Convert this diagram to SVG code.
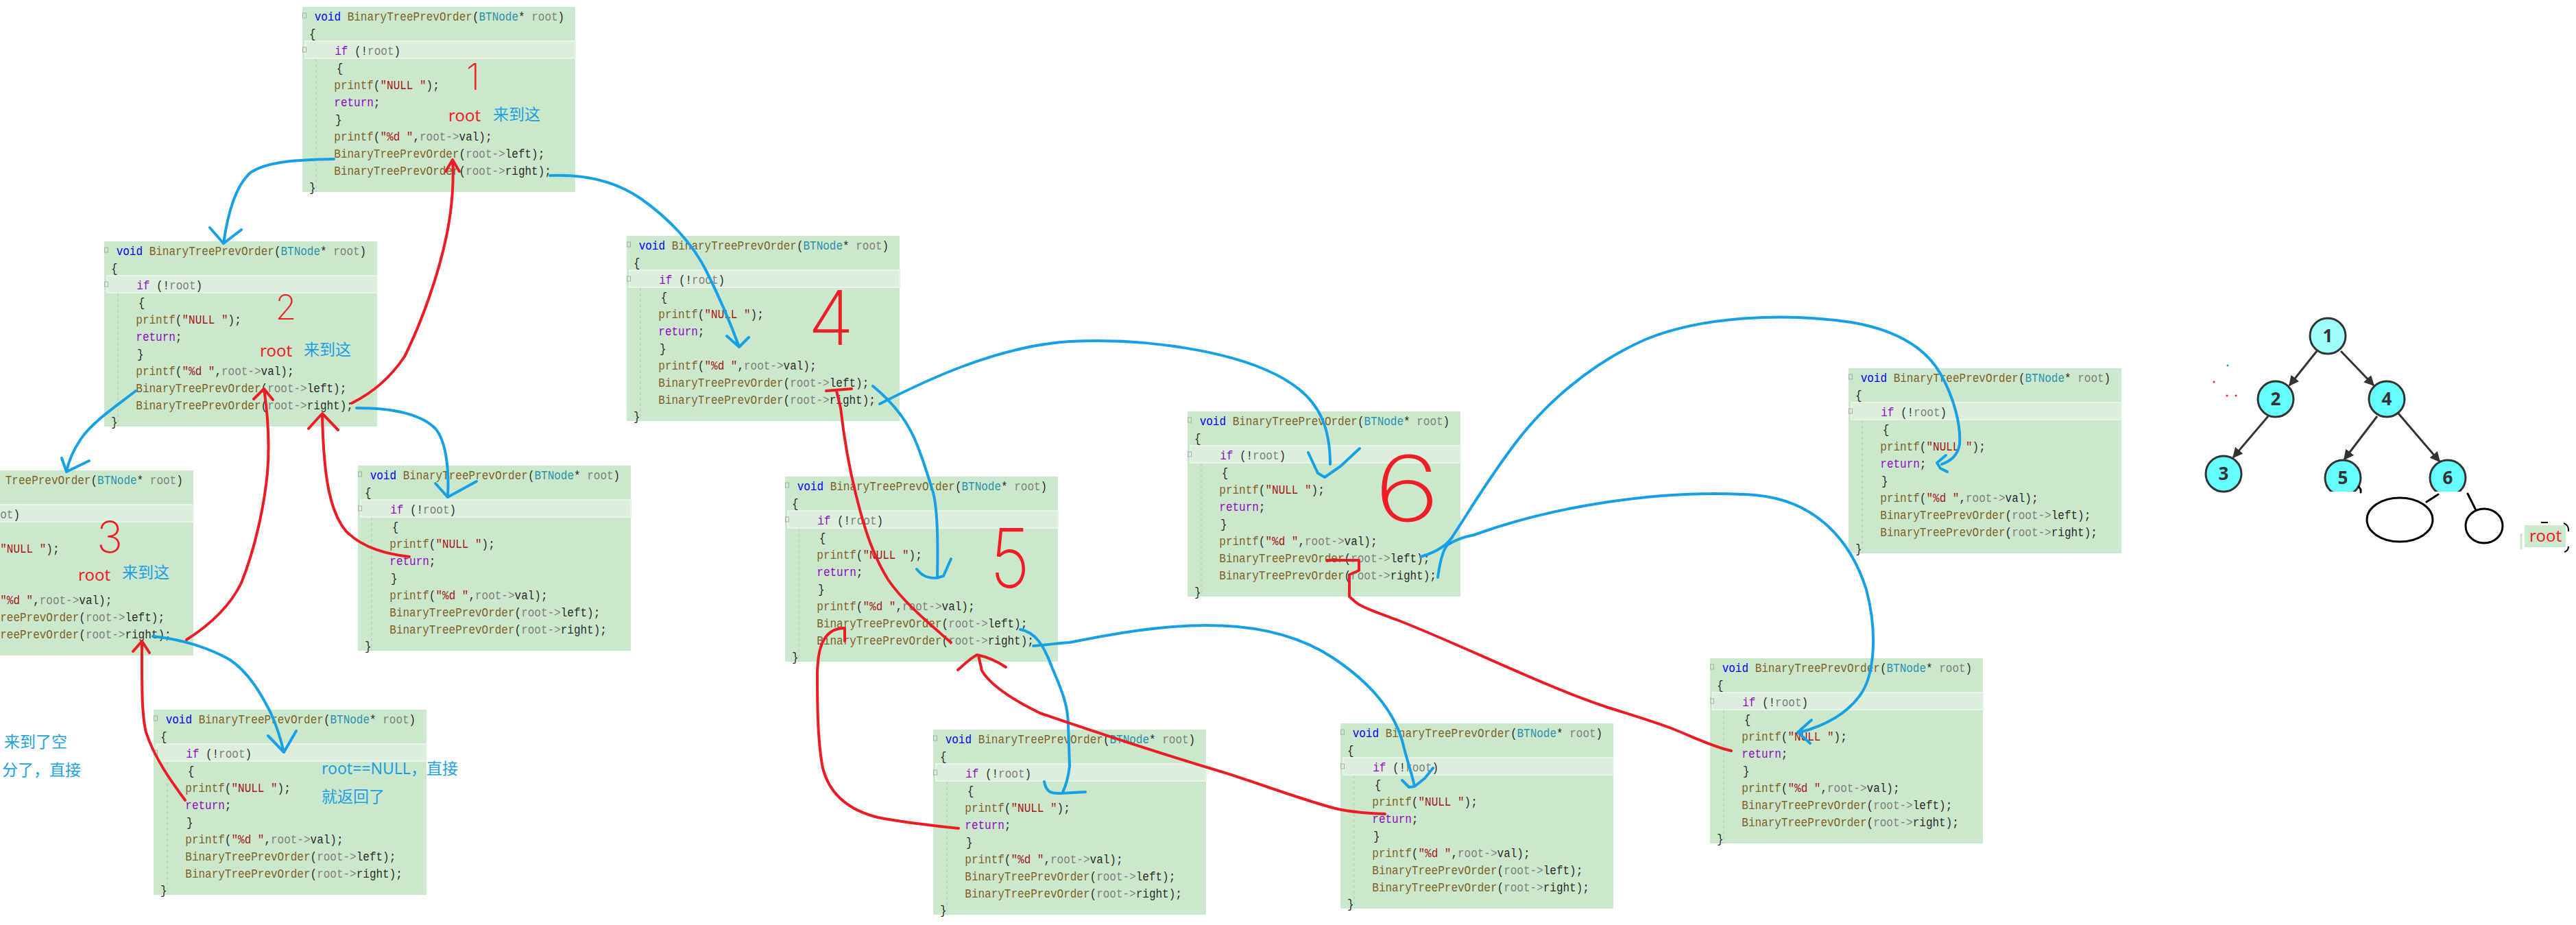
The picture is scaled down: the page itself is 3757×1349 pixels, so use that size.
<svg xmlns="http://www.w3.org/2000/svg" xmlns:xlink="http://www.w3.org/1999/xlink" width="3757" height="1349" viewBox="0 0 3757 1349">
<style>
.code text{font-family:"Liberation Mono","DejaVu Sans Mono",monospace;font-size:19px;fill:#2a2a2a}
.k{fill:#0000ff}.f{fill:#7f6227}.t{fill:#2b91af}.p{fill:#808080}.c{fill:#8f08c4}.s{fill:#a31515}
.ann{font-family:"Noto Sans","Noto Sans CJK SC",sans-serif;font-size:23px}
.rt{fill:#f01e24;font-size:24px}.bl{fill:#1c9fe4}
.num{font-family:"Inter","DejaVu Sans","Liberation Sans",sans-serif;font-weight:200;fill:#f01e24}
.blue{fill:none;stroke:#16a0e6;stroke-width:4;stroke-linecap:round;stroke-linejoin:round}
.red{fill:none;stroke:#ec1c24;stroke-width:4;stroke-linecap:round;stroke-linejoin:round}
.tn{fill:#66ffff;stroke:#333;stroke-width:3}
.tl{font-family:"Noto Sans","Liberation Sans",sans-serif;font-size:26px;font-weight:bold;fill:#333;text-anchor:middle}
.te{stroke:#333;stroke-width:3;fill:none}
.hand{fill:none;stroke:#000;stroke-width:3;stroke-linecap:round}
</style>
<defs>
<g id="bg">
<rect width="398" height="270" fill="#cce8cc"/>
<rect x="4" y="50" width="394" height="25" fill="#dcefdc" stroke="#e9f4e9" stroke-width="2"/>
<line x1="20" y1="76" x2="20" y2="270" stroke="#b3c6b3" stroke-width="1" stroke-dasharray="4 4"/>
<rect x="0.5" y="9" width="5" height="7" fill="none" stroke="#a0b0a0" stroke-width="1"/>
<rect x="0.5" y="59" width="5" height="7" fill="none" stroke="#a0b0a0" stroke-width="1"/>
</g>
<marker id="ah" viewBox="0 0 10 10" refX="9" refY="5" markerWidth="5" markerHeight="5" orient="auto"><path d="M0,0 L10,5 L0,10 z" fill="#333"/></marker>
</defs>
<rect width="3757" height="1349" fill="#ffffff"/>

<g id="node-A" transform="translate(441,10)"><use href="#bg"/><g class="code" transform="scale(.842 1)">
<text x="21" y="20"><tspan class="k">void</tspan> <tspan class="f">BinaryTreePrevOrder</tspan>(<tspan class="t">BTNode</tspan>* <tspan class="p">root</tspan>)</text>
<text x="12" y="45">{</text>
<text x="56" y="70"><tspan class="c">if</tspan> (!<tspan class="p">root</tspan>)</text>
<text x="59" y="95">{</text>
<text x="55" y="120"><tspan class="f">printf</tspan>(<tspan class="s">"NULL "</tspan>);</text>
<text x="55" y="145"><tspan class="c">return</tspan>;</text>
<text x="57" y="170">}</text>
<text x="55" y="195"><tspan class="f">printf</tspan>(<tspan class="s">"%d "</tspan>,<tspan class="p">root-&gt;</tspan>val);</text>
<text x="55" y="220"><tspan class="f">BinaryTreePrevOrder</tspan>(<tspan class="p">root-&gt;</tspan>left);</text>
<text x="55" y="245"><tspan class="f">BinaryTreePrevOrder</tspan>(<tspan class="p">root-&gt;</tspan>right);</text>
<text x="12" y="269">}</text>
</g></g>

<g id="node-B" transform="translate(152,352)"><use href="#bg"/><g class="code" transform="scale(.842 1)">
<text x="21" y="20"><tspan class="k">void</tspan> <tspan class="f">BinaryTreePrevOrder</tspan>(<tspan class="t">BTNode</tspan>* <tspan class="p">root</tspan>)</text>
<text x="12" y="45">{</text>
<text x="56" y="70"><tspan class="c">if</tspan> (!<tspan class="p">root</tspan>)</text>
<text x="59" y="95">{</text>
<text x="55" y="120"><tspan class="f">printf</tspan>(<tspan class="s">"NULL "</tspan>);</text>
<text x="55" y="145"><tspan class="c">return</tspan>;</text>
<text x="57" y="170">}</text>
<text x="55" y="195"><tspan class="f">printf</tspan>(<tspan class="s">"%d "</tspan>,<tspan class="p">root-&gt;</tspan>val);</text>
<text x="55" y="220"><tspan class="f">BinaryTreePrevOrder</tspan>(<tspan class="p">root-&gt;</tspan>left);</text>
<text x="55" y="245"><tspan class="f">BinaryTreePrevOrder</tspan>(<tspan class="p">root-&gt;</tspan>right);</text>
<text x="12" y="269">}</text>
</g></g>

<g id="node-C" transform="translate(-116,686)"><use href="#bg"/><g class="code" transform="scale(.842 1)">
<text x="147" y="20"><tspan class="f">TreePrevOrder</tspan>(<tspan class="t">BTNode</tspan>* <tspan class="p">root</tspan>)</text>
<text x="138" y="70"><tspan class="p">ot</tspan>)</text>
<text x="138" y="120"><tspan class="s">"NULL "</tspan>);</text>
<text x="138" y="195"><tspan class="s">"%d "</tspan>,<tspan class="p">root-&gt;</tspan>val);</text>
<text x="138" y="220"><tspan class="f">reePrevOrder</tspan>(<tspan class="p">root-&gt;</tspan>left);</text>
<text x="138" y="245"><tspan class="f">reePrevOrder</tspan>(<tspan class="p">root-&gt;</tspan>right);</text>
</g></g>

<g id="node-D" transform="translate(224,1035)"><use href="#bg"/><g class="code" transform="scale(.842 1)">
<text x="21" y="20"><tspan class="k">void</tspan> <tspan class="f">BinaryTreePrevOrder</tspan>(<tspan class="t">BTNode</tspan>* <tspan class="p">root</tspan>)</text>
<text x="12" y="45">{</text>
<text x="56" y="70"><tspan class="c">if</tspan> (!<tspan class="p">root</tspan>)</text>
<text x="59" y="95">{</text>
<text x="55" y="120"><tspan class="f">printf</tspan>(<tspan class="s">"NULL "</tspan>);</text>
<text x="55" y="145"><tspan class="c">return</tspan>;</text>
<text x="57" y="170">}</text>
<text x="55" y="195"><tspan class="f">printf</tspan>(<tspan class="s">"%d "</tspan>,<tspan class="p">root-&gt;</tspan>val);</text>
<text x="55" y="220"><tspan class="f">BinaryTreePrevOrder</tspan>(<tspan class="p">root-&gt;</tspan>left);</text>
<text x="55" y="245"><tspan class="f">BinaryTreePrevOrder</tspan>(<tspan class="p">root-&gt;</tspan>right);</text>
<text x="12" y="269">}</text>
</g></g>

<g id="node-E" transform="translate(522,679)"><use href="#bg"/><g class="code" transform="scale(.842 1)">
<text x="21" y="20"><tspan class="k">void</tspan> <tspan class="f">BinaryTreePrevOrder</tspan>(<tspan class="t">BTNode</tspan>* <tspan class="p">root</tspan>)</text>
<text x="12" y="45">{</text>
<text x="56" y="70"><tspan class="c">if</tspan> (!<tspan class="p">root</tspan>)</text>
<text x="59" y="95">{</text>
<text x="55" y="120"><tspan class="f">printf</tspan>(<tspan class="s">"NULL "</tspan>);</text>
<text x="55" y="145"><tspan class="c">return</tspan>;</text>
<text x="57" y="170">}</text>
<text x="55" y="195"><tspan class="f">printf</tspan>(<tspan class="s">"%d "</tspan>,<tspan class="p">root-&gt;</tspan>val);</text>
<text x="55" y="220"><tspan class="f">BinaryTreePrevOrder</tspan>(<tspan class="p">root-&gt;</tspan>left);</text>
<text x="55" y="245"><tspan class="f">BinaryTreePrevOrder</tspan>(<tspan class="p">root-&gt;</tspan>right);</text>
<text x="12" y="269">}</text>
</g></g>

<g id="node-F" transform="translate(914,344)"><use href="#bg"/><g class="code" transform="scale(.842 1)">
<text x="21" y="20"><tspan class="k">void</tspan> <tspan class="f">BinaryTreePrevOrder</tspan>(<tspan class="t">BTNode</tspan>* <tspan class="p">root</tspan>)</text>
<text x="12" y="45">{</text>
<text x="56" y="70"><tspan class="c">if</tspan> (!<tspan class="p">root</tspan>)</text>
<text x="59" y="95">{</text>
<text x="55" y="120"><tspan class="f">printf</tspan>(<tspan class="s">"NULL "</tspan>);</text>
<text x="55" y="145"><tspan class="c">return</tspan>;</text>
<text x="57" y="170">}</text>
<text x="55" y="195"><tspan class="f">printf</tspan>(<tspan class="s">"%d "</tspan>,<tspan class="p">root-&gt;</tspan>val);</text>
<text x="55" y="220"><tspan class="f">BinaryTreePrevOrder</tspan>(<tspan class="p">root-&gt;</tspan>left);</text>
<text x="55" y="245"><tspan class="f">BinaryTreePrevOrder</tspan>(<tspan class="p">root-&gt;</tspan>right);</text>
<text x="12" y="269">}</text>
</g></g>

<g id="node-G" transform="translate(1145,695)"><use href="#bg"/><g class="code" transform="scale(.842 1)">
<text x="21" y="20"><tspan class="k">void</tspan> <tspan class="f">BinaryTreePrevOrder</tspan>(<tspan class="t">BTNode</tspan>* <tspan class="p">root</tspan>)</text>
<text x="12" y="45">{</text>
<text x="56" y="70"><tspan class="c">if</tspan> (!<tspan class="p">root</tspan>)</text>
<text x="59" y="95">{</text>
<text x="55" y="120"><tspan class="f">printf</tspan>(<tspan class="s">"NULL "</tspan>);</text>
<text x="55" y="145"><tspan class="c">return</tspan>;</text>
<text x="57" y="170">}</text>
<text x="55" y="195"><tspan class="f">printf</tspan>(<tspan class="s">"%d "</tspan>,<tspan class="p">root-&gt;</tspan>val);</text>
<text x="55" y="220"><tspan class="f">BinaryTreePrevOrder</tspan>(<tspan class="p">root-&gt;</tspan>left);</text>
<text x="55" y="245"><tspan class="f">BinaryTreePrevOrder</tspan>(<tspan class="p">root-&gt;</tspan>right);</text>
<text x="12" y="269">}</text>
</g></g>

<g id="node-H" transform="translate(1361,1064)"><use href="#bg"/><g class="code" transform="scale(.842 1)">
<text x="21" y="20"><tspan class="k">void</tspan> <tspan class="f">BinaryTreePrevOrder</tspan>(<tspan class="t">BTNode</tspan>* <tspan class="p">root</tspan>)</text>
<text x="12" y="45">{</text>
<text x="56" y="70"><tspan class="c">if</tspan> (!<tspan class="p">root</tspan>)</text>
<text x="59" y="95">{</text>
<text x="55" y="120"><tspan class="f">printf</tspan>(<tspan class="s">"NULL "</tspan>);</text>
<text x="55" y="145"><tspan class="c">return</tspan>;</text>
<text x="57" y="170">}</text>
<text x="55" y="195"><tspan class="f">printf</tspan>(<tspan class="s">"%d "</tspan>,<tspan class="p">root-&gt;</tspan>val);</text>
<text x="55" y="220"><tspan class="f">BinaryTreePrevOrder</tspan>(<tspan class="p">root-&gt;</tspan>left);</text>
<text x="55" y="245"><tspan class="f">BinaryTreePrevOrder</tspan>(<tspan class="p">root-&gt;</tspan>right);</text>
<text x="12" y="269">}</text>
</g></g>

<g id="node-I" transform="translate(1955,1055)"><use href="#bg"/><g class="code" transform="scale(.842 1)">
<text x="21" y="20"><tspan class="k">void</tspan> <tspan class="f">BinaryTreePrevOrder</tspan>(<tspan class="t">BTNode</tspan>* <tspan class="p">root</tspan>)</text>
<text x="12" y="45">{</text>
<text x="56" y="70"><tspan class="c">if</tspan> (!<tspan class="p">root</tspan>)</text>
<text x="59" y="95">{</text>
<text x="55" y="120"><tspan class="f">printf</tspan>(<tspan class="s">"NULL "</tspan>);</text>
<text x="55" y="145"><tspan class="c">return</tspan>;</text>
<text x="57" y="170">}</text>
<text x="55" y="195"><tspan class="f">printf</tspan>(<tspan class="s">"%d "</tspan>,<tspan class="p">root-&gt;</tspan>val);</text>
<text x="55" y="220"><tspan class="f">BinaryTreePrevOrder</tspan>(<tspan class="p">root-&gt;</tspan>left);</text>
<text x="55" y="245"><tspan class="f">BinaryTreePrevOrder</tspan>(<tspan class="p">root-&gt;</tspan>right);</text>
<text x="12" y="269">}</text>
</g></g>

<g id="node-J" transform="translate(1732,600)"><use href="#bg"/><g class="code" transform="scale(.842 1)">
<text x="21" y="20"><tspan class="k">void</tspan> <tspan class="f">BinaryTreePrevOrder</tspan>(<tspan class="t">BTNode</tspan>* <tspan class="p">root</tspan>)</text>
<text x="12" y="45">{</text>
<text x="56" y="70"><tspan class="c">if</tspan> (!<tspan class="p">root</tspan>)</text>
<text x="59" y="95">{</text>
<text x="55" y="120"><tspan class="f">printf</tspan>(<tspan class="s">"NULL "</tspan>);</text>
<text x="55" y="145"><tspan class="c">return</tspan>;</text>
<text x="57" y="170">}</text>
<text x="55" y="195"><tspan class="f">printf</tspan>(<tspan class="s">"%d "</tspan>,<tspan class="p">root-&gt;</tspan>val);</text>
<text x="55" y="220"><tspan class="f">BinaryTreePrevOrder</tspan>(<tspan class="p">root-&gt;</tspan>left);</text>
<text x="55" y="245"><tspan class="f">BinaryTreePrevOrder</tspan>(<tspan class="p">root-&gt;</tspan>right);</text>
<text x="12" y="269">}</text>
</g></g>

<g id="node-K" transform="translate(2696,537)"><use href="#bg"/><g class="code" transform="scale(.842 1)">
<text x="21" y="20"><tspan class="k">void</tspan> <tspan class="f">BinaryTreePrevOrder</tspan>(<tspan class="t">BTNode</tspan>* <tspan class="p">root</tspan>)</text>
<text x="12" y="45">{</text>
<text x="56" y="70"><tspan class="c">if</tspan> (!<tspan class="p">root</tspan>)</text>
<text x="59" y="95">{</text>
<text x="55" y="120"><tspan class="f">printf</tspan>(<tspan class="s">"NULL "</tspan>);</text>
<text x="55" y="145"><tspan class="c">return</tspan>;</text>
<text x="57" y="170">}</text>
<text x="55" y="195"><tspan class="f">printf</tspan>(<tspan class="s">"%d "</tspan>,<tspan class="p">root-&gt;</tspan>val);</text>
<text x="55" y="220"><tspan class="f">BinaryTreePrevOrder</tspan>(<tspan class="p">root-&gt;</tspan>left);</text>
<text x="55" y="245"><tspan class="f">BinaryTreePrevOrder</tspan>(<tspan class="p">root-&gt;</tspan>right);</text>
<text x="12" y="269">}</text>
</g></g>

<g id="node-L" transform="translate(2494,960)"><use href="#bg"/><g class="code" transform="scale(.842 1)">
<text x="21" y="20"><tspan class="k">void</tspan> <tspan class="f">BinaryTreePrevOrder</tspan>(<tspan class="t">BTNode</tspan>* <tspan class="p">root</tspan>)</text>
<text x="12" y="45">{</text>
<text x="56" y="70"><tspan class="c">if</tspan> (!<tspan class="p">root</tspan>)</text>
<text x="59" y="95">{</text>
<text x="55" y="120"><tspan class="f">printf</tspan>(<tspan class="s">"NULL "</tspan>);</text>
<text x="55" y="145"><tspan class="c">return</tspan>;</text>
<text x="57" y="170">}</text>
<text x="55" y="195"><tspan class="f">printf</tspan>(<tspan class="s">"%d "</tspan>,<tspan class="p">root-&gt;</tspan>val);</text>
<text x="55" y="220"><tspan class="f">BinaryTreePrevOrder</tspan>(<tspan class="p">root-&gt;</tspan>left);</text>
<text x="55" y="245"><tspan class="f">BinaryTreePrevOrder</tspan>(<tspan class="p">root-&gt;</tspan>right);</text>
<text x="12" y="269">}</text>
</g></g>

<g id="annotations">
<text class="num" x="690" y="131" font-size="54" text-anchor="middle">1</text>
<text class="num" x="417" y="466" font-size="50" text-anchor="middle">2</text>
<text class="num" x="160" y="806" font-size="64" text-anchor="middle">3</text>
<text class="num" x="1212" y="503" font-size="110" text-anchor="middle">4</text>
<text class="num" transform="translate(1473,857) scale(1,1.2)" font-size="100" text-anchor="middle">5</text>
<text class="num" transform="translate(2052,760) scale(1.25,1)" font-size="132" text-anchor="middle">6</text>
<text class="ann rt" x="654" y="177">root</text>
<text class="ann bl" x="719" y="175">来到这</text>
<text class="ann rt" x="379" y="520">root</text>
<text class="ann bl" x="443" y="518">来到这</text>
<text class="ann rt" x="114" y="847">root</text>
<text class="ann bl" x="178" y="843">来到这</text>
<text class="ann bl" x="469" y="1129">root==NULL，直接</text>
<text class="ann bl" x="469" y="1170">就返回了</text>
<text class="ann bl" x="6" y="1090">来到了空</text>
<text class="ann bl" x="3" y="1131">分了，直接</text>
</g>

<g id="connectors">
<path class="blue" d="M487,232 C440,233 390,234 365,252 C345,270 333,305 326,355 M306,332 L326,355 L352,335"/>
<path class="blue" d="M198,570 C170,592 135,615 118,640 C106,658 100,672 97,688 M90,668 L97,688 L130,672"/>
<path class="blue" d="M223,928 C265,932 305,945 335,962 C362,980 380,1010 395,1040 C405,1062 410,1080 414,1097 M391,1073 L414,1097 L432,1066"/>
<path class="blue" d="M520,595 C575,595 615,605 635,625 C652,645 655,690 653,725 M635,705 L653,725 L695,702"/>
<path class="blue" d="M802,256 C850,254 895,262 935,290 C975,318 1010,355 1030,395 C1050,435 1065,470 1078,506 M1060,490 L1078,506 L1092,492"/>
<path class="blue" d="M1273,563 C1300,585 1325,615 1338,650 C1348,675 1352,690 1360,715 C1368,740 1368,800 1367,843 M1337,830 C1345,840 1352,843 1366,843 L1376,840 L1387,815"/>
<path class="blue" d="M1283,589 C1340,560 1450,505 1560,498 C1680,492 1830,515 1895,568 C1925,592 1940,625 1940,677 M1908,660 L1922,690 L1932,696 L1955,680 L1983,654"/>
<path class="blue" d="M1488,918 C1510,922 1522,940 1535,975 C1550,1010 1558,1030 1558,1060 L1560,1117 C1558,1135 1555,1145 1550,1155 M1523,1140 C1526,1155 1532,1157 1545,1157 L1583,1155"/>
<path class="blue" d="M1507,942 C1530,940 1545,938 1560,937 C1620,925 1690,912 1760,912 C1840,912 1900,930 1945,960 C1990,990 2030,1030 2045,1080 C2052,1110 2060,1130 2063,1147 M2045,1138 L2055,1148 L2063,1147 L2078,1135 L2090,1120"/>
<path class="blue" d="M2072,812 C2095,805 2112,795 2120,780 C2140,750 2160,715 2200,660 C2250,590 2320,530 2400,495 C2480,462 2600,455 2700,470 C2770,482 2810,510 2830,545 C2850,580 2860,620 2858,648 C2855,665 2845,672 2832,677 M2838,664 L2825,675 L2830,683 L2840,688"/>
<path class="blue" d="M2097,842 C2100,820 2105,800 2112,794 C2125,786 2140,782 2150,780 C2260,740 2420,712 2560,722 C2650,730 2700,790 2722,860 C2738,920 2735,985 2712,1015 C2690,1045 2655,1060 2625,1068 M2642,1050 L2622,1068 L2640,1084"/>
<path class="red" d="M270,1167 C250,1140 225,1105 213,1068 C206,1040 207,990 207,935 M194,950 L207,935 L218,952"/>
<path class="red" d="M272,933 C305,912 335,885 352,850 C372,800 385,740 390,690 C394,640 390,600 385,567 M370,582 L385,567 L398,583"/>
<path class="red" d="M597,812 C565,808 530,800 505,775 C482,748 472,700 470,605 M450,625 L470,603 L493,627"/>
<path class="red" d="M513,588 C545,572 570,550 590,520 C615,470 640,400 652,340 C660,300 662,260 660,233 M650,250 L660,233 L670,250"/>
<path class="red" d="M1398,1208 C1360,1204 1320,1200 1280,1192 C1240,1182 1210,1160 1200,1120 C1192,1080 1192,1020 1192,980 C1193,955 1196,940 1205,928 C1213,918 1225,916 1232,916 L1232,935"/>
<path class="red" d="M1387,937 C1350,905 1315,875 1295,845 C1270,805 1258,760 1248,720 C1238,680 1230,630 1226,595 L1220,570 M1205,570 L1242,567"/>
<path class="red" d="M2020,1187 C1990,1186 1960,1183 1940,1177 C1880,1160 1830,1140 1770,1122 C1680,1095 1590,1065 1517,1040 C1480,1022 1445,1000 1432,978 L1427,956 M1397,977 C1405,970 1415,960 1425,955 C1440,958 1455,965 1467,973"/>
<path class="red" d="M2525,1095 C2495,1088 2470,1075 2440,1063 C2400,1048 2370,1040 2340,1030 C2250,1000 2130,940 2040,905 C2005,892 1985,885 1977,878 L1968,870 L1968,838 L1982,832 L1982,817 L1935,817"/>
</g>

<g id="tree">
<line class="te" x1="3379" y1="512" x2="3339" y2="562" marker-end="url(#ah)"/>
<line class="te" x1="3414" y1="512" x2="3462" y2="562" marker-end="url(#ah)"/>
<line class="te" x1="3308" y1="607" x2="3257" y2="667" marker-end="url(#ah)"/>
<line class="te" x1="3467" y1="607" x2="3419" y2="670" marker-end="url(#ah)"/>
<line class="te" x1="3498" y1="603" x2="3558" y2="673" marker-end="url(#ah)"/>
<g id="tree-1"><circle class="tn" cx="3395" cy="490" r="26" style="fill:#9ffefe"/><text class="tl" x="3395" y="499">1</text></g>
<g id="tree-2"><circle class="tn" cx="3319" cy="582" r="26"/><text class="tl" x="3319" y="591">2</text></g>
<g id="tree-4"><circle class="tn" cx="3481" cy="582" r="26"/><text class="tl" x="3481" y="591">4</text></g>
<g id="tree-3"><circle class="tn" cx="3243" cy="691" r="26"/><text class="tl" x="3243" y="700">3</text></g>
<g id="tree-5"><circle class="tn" cx="3417" cy="697" r="26"/><text class="tl" x="3417" y="706">5</text></g>
<g id="tree-6"><circle class="tn" cx="3570" cy="697" r="26"/><text class="tl" x="3570" y="706">6</text></g>
<rect x="3385" y="717" width="220" height="10" fill="#ffffff"/>
<path class="hand" d="M3440,710 Q3444,713 3443,718"/>
<ellipse class="hand" cx="3500" cy="758" rx="48" ry="32"/>
<ellipse class="hand" cx="3623" cy="767" rx="27" ry="25"/>
<path class="hand" d="M3556,721 L3539,732 M3599,720 L3611,744"/>
<circle cx="3249" cy="533" r="1.5" fill="#16a0e6"/>
<circle cx="3229" cy="557" r="1.5" fill="#ec1c24"/>
<circle cx="3248" cy="577" r="1.5" fill="#ec1c24"/>
<circle cx="3261" cy="577" r="1.5" fill="#ec1c24"/>
<line x1="3677" y1="778" x2="3677" y2="801" stroke="#cce8cc" stroke-width="3"/>
<rect x="3682" y="766" width="60" height="32" fill="#cce8cc"/>
<text class="ann rt" x="3689" y="790">root</text>
<path d="M3706,762 L3716,762 M3739,763 Q3747,766 3746,775 M3746,797 Q3746,803 3740,805" fill="none" stroke="#000" stroke-width="2"/>
</g>
</svg>
